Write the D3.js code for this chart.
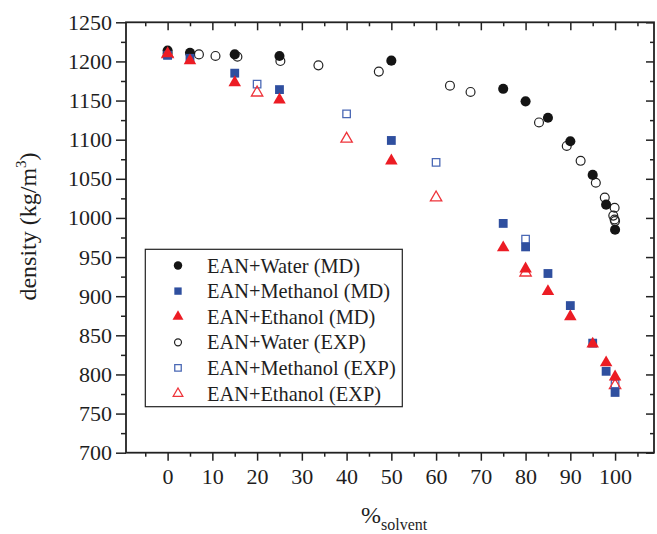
<!DOCTYPE html>
<html>
<head>
<meta charset="utf-8">
<script src="https://cdn.jsdelivr.net/npm/d3@7"></script>
<style>
  html, body { margin: 0; padding: 0; background: #fff; }
  svg { display: block; }
  text { font-family: "Liberation Serif", "Times New Roman", serif; fill: #1e1e1e; }
</style>
</head>
<body>
<svg id="chart" width="657" height="534"></svg>
<script>
// Density of EAN mixtures vs solvent fraction (%), MD simulation and experiment
const waterMD_x    = [0, 5, 15, 25, 50, 75, 80, 85, 90, 95, 98, 100];
const waterMD_y    = [1214, 1211, 1209, 1207, 1201, 1165, 1149, 1128, 1098, 1055, 1017, 985];
const methanolMD_x = [0, 5, 15, 25, 50, 75, 80, 85, 90, 95, 98, 100];
const methanolMD_y = [1208, 1204, 1185, 1164, 1099, 993, 963, 929, 888, 840, 804, 777];
const ethanolMD_x  = [0, 5, 15, 25, 50, 75, 80, 85, 90, 95, 98, 100];
const ethanolMD_y  = [1210, 1201, 1173, 1151, 1073, 962, 935, 906, 874, 839, 815, 797];

const waterEXP_x    = [0, 7, 10.7, 15.6, 25.2, 33.7, 47.2, 63.1, 67.7, 83, 89.2, 92.3, 95.7, 97.7, 99.9, 99.6, 99.9, 100];
const waterEXP_y    = [1210, 1209, 1207, 1206, 1200.5, 1195, 1187, 1169, 1161, 1122, 1092, 1073, 1045, 1026, 1013, 1003, 998, 996];
const methanolEXP_x = [0, 20, 40, 60, 80, 100];
const methanolEXP_y = [1208, 1171, 1133, 1071, 973, 788];
const ethanolEXP_x  = [0, 20, 40, 60, 80, 100];
const ethanolEXP_y  = [1209, 1160, 1101, 1026, 930, 786];

const legendLabels = [
  "EAN+Water (MD)", "EAN+Methanol (MD)", "EAN+Ethanol (MD)",
  "EAN+Water (EXP)", "EAN+Methanol (EXP)", "EAN+Ethanol (EXP)"
];
const xTickValues = [0, 10, 20, 30, 40, 50, 60, 70, 80, 90, 100];
const yTickValues = [700, 750, 800, 850, 900, 950, 1000, 1050, 1100, 1150, 1200, 1250];

const BLUE = "#2f4f9f", RED = "#ec1c24", BLACK = "#141414";

// series styles: symbol type, filled or hollow, colour, marker area
const series = [
  { label: legendLabels[3], xs: waterEXP_x,    ys: waterEXP_y,    sym: d3.symbolCircle,   fill: false, color: "#222", size: 62, lsize: 38, sw: 1.2 },
  { label: legendLabels[4], xs: methanolEXP_x, ys: methanolEXP_y, sym: d3.symbolSquare,   fill: false, color: "#4a68b5", size: 56, lsize: 42, sw: 1.3 },
  { label: legendLabels[5], xs: ethanolEXP_x,  ys: ethanolEXP_y,  sym: d3.symbolTriangle, fill: false, color: "#ee333a", size: 56, lsize: 40, sw: 1.3 },
  { label: legendLabels[0], xs: waterMD_x,     ys: waterMD_y,     sym: d3.symbolCircle,   fill: true,  color: BLACK, size: 80, lsize: 56 },
  { label: legendLabels[1], xs: methanolMD_x,  ys: methanolMD_y,  sym: d3.symbolSquare,   fill: true,  color: BLUE,  size: 78, lsize: 54 },
  { label: legendLabels[2], xs: ethanolMD_x,   ys: ethanolMD_y,   sym: d3.symbolTriangle, fill: true,  color: RED,   size: 68, lsize: 52 }
];

const svg = d3.select("#chart");
const plotL = 126, plotR = 654, plotT = 22.3, plotB = 452.7;

const x = d3.scaleLinear().domain([-9.3, 108.7]).range([plotL, plotR]);
const y = d3.scaleLinear().domain([700, 1250]).range([plotB, plotT]);

const xMinor = d3.range(-5, 110, 5).filter(v => v % 10 !== 0);
const yMinor = d3.range(725, 1250, 50);

function styleAxis(g) {
  g.select(".domain").remove();
  g.selectAll(".tick line").attr("stroke", "#222").attr("stroke-width", 1.5);
  g.selectAll(".tick text").style("font-size", "22px").attr("fill", "#1e1e1e");
}

// bottom axis with labels, ticks outward
svg.append("g").attr("transform", `translate(0,${plotB})`)
  .call(d3.axisBottom(x).tickValues(xTickValues).tickSize(8).tickPadding(8).tickFormat(d3.format("d")))
  .call(styleAxis);
svg.append("g").attr("transform", `translate(0,${plotB})`)
  .call(d3.axisBottom(x).tickValues(xMinor).tickSize(4).tickFormat(""))
  .call(styleAxis);

// top axis, ticks pointing into the plot
svg.append("g").attr("transform", `translate(0,${plotT})`)
  .call(d3.axisTop(x).tickValues(xTickValues).tickSize(-8).tickFormat(""))
  .call(styleAxis);
svg.append("g").attr("transform", `translate(0,${plotT})`)
  .call(d3.axisTop(x).tickValues(xMinor).tickSize(-4).tickFormat(""))
  .call(styleAxis);

// left axis with labels, ticks outward
svg.append("g").attr("transform", `translate(${plotL},0)`)
  .call(d3.axisLeft(y).tickValues(yTickValues).tickSize(10).tickPadding(4).tickFormat(d3.format("d")))
  .call(styleAxis);
svg.append("g").attr("transform", `translate(${plotL},0)`)
  .call(d3.axisLeft(y).tickValues(yMinor).tickSize(5).tickFormat(""))
  .call(styleAxis);

// right axis, ticks pointing into the plot
svg.append("g").attr("transform", `translate(${plotR},0)`)
  .call(d3.axisRight(y).tickValues(yTickValues).tickSize(-8).tickFormat(""))
  .call(styleAxis);
svg.append("g").attr("transform", `translate(${plotR},0)`)
  .call(d3.axisRight(y).tickValues(yMinor).tickSize(-4).tickFormat(""))
  .call(styleAxis);

// plot frame
svg.append("rect")
  .attr("x", plotL).attr("y", plotT)
  .attr("width", plotR - plotL).attr("height", plotB - plotT)
  .attr("fill", "none").attr("stroke", "#222").attr("stroke-width", 1.8);

// data markers: experimental series first, simulation on top
series.forEach(s => {
  const pts = s.xs.map((v, i) => [v, s.ys[i]]);
  const sym = d3.symbol().type(s.sym).size(s.size);
  svg.append("g").selectAll("path").data(pts).join("path")
    .attr("d", sym)
    .attr("transform", d => `translate(${x(d[0])},${y(d[1])})`)
    .attr("fill", s.fill ? s.color : "none")
    .attr("stroke", s.fill ? "none" : s.color)
    .attr("stroke-width", s.sw || 0);
});

// legend
const legendOrder = [3, 4, 5, 0, 1, 2];
const lg = svg.append("g");
lg.append("rect")
  .attr("x", 145.3).attr("y", 249.3).attr("width", 257).attr("height", 157.4)
  .attr("fill", "#fff").attr("stroke", "#222").attr("stroke-width", 1.2);
legendOrder.forEach((si, i) => {
  const s = series[si];
  const cy = 265.5 + i * 25.6;
  lg.append("path")
    .attr("d", d3.symbol().type(s.sym).size(s.lsize))
    .attr("transform", `translate(178,${cy})`)
    .attr("fill", s.fill ? s.color : "none")
    .attr("stroke", s.fill ? "none" : s.color)
    .attr("stroke-width", s.sw || 0);
  lg.append("text")
    .attr("x", 207).attr("y", cy + 7)
    .style("font-size", "20.4px")
    .text(s.label);
});

// y axis title
const yt = svg.append("text")
  .attr("transform", "translate(36,226.5) rotate(-90)")
  .attr("text-anchor", "middle")
  .style("font-size", "24px");
yt.append("tspan").text("density (kg/m");
yt.append("tspan").text("3").style("font-size", "15px").attr("dy", "-10");
yt.append("tspan").text(")").attr("dy", "10");

// x axis title with subscript
const xt = svg.append("text")
  .attr("x", 361).attr("y", 523)
  .style("font-size", "24px");
xt.append("tspan").text("%");
xt.append("tspan").text("solvent").style("font-size", "16px").attr("dy", "7");
</script>
</body>
</html>
